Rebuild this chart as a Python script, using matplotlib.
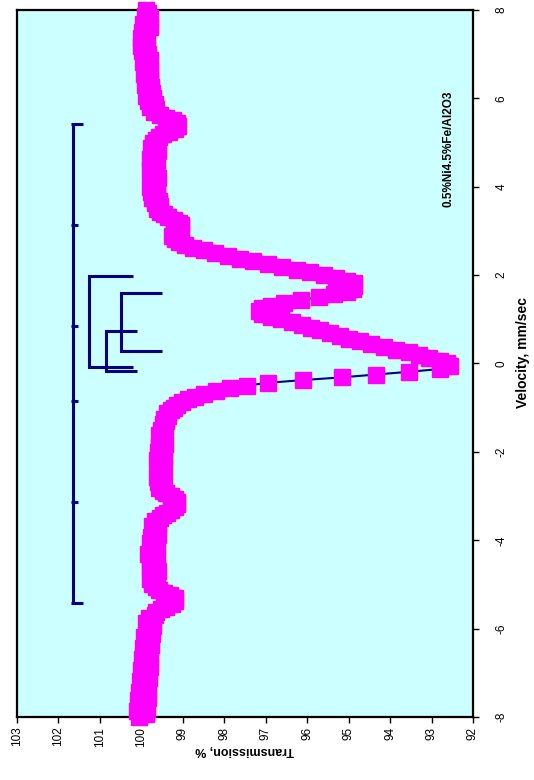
import numpy as np
import matplotlib
matplotlib.use("Agg")
import matplotlib.pyplot as plt

plt.rcParams['font.family'] = ['Liberation Sans', 'DejaVu Sans']
plt.rcParams['axes.unicode_minus'] = False

# Mossbauer spectrum, 0.5%Ni4.5%Fe/Al2O3 (channels evenly spaced from -8 to +8 mm/s)
transmission = [
    100.05, 99.90, 100.10, 99.86, 100.02, 99.92, 100.08, 99.85,
    99.96, 100.06, 99.84, 99.98, 99.88, 100.04, 99.82, 99.95,
    99.86, 100.00, 99.80, 99.93, 99.84, 99.98, 99.78, 99.92,
    99.82, 99.95, 99.76, 99.90, 99.80, 99.94, 99.74, 99.86,
    99.80, 99.72, 99.88, 99.74, 99.82, 99.68, 99.64, 99.52,
    99.40, 99.26, 99.18, 99.20, 99.32, 99.46, 99.58, 99.64,
    99.74, 99.62, 99.80, 99.66, 99.76, 99.60, 99.78, 99.66,
    99.80, 99.63, 99.74, 99.84, 99.65, 99.76, 99.62, 99.79,
    99.68, 99.76, 99.61, 99.72, 99.64, 99.74, 99.60, 99.66,
    99.56, 99.48, 99.38, 99.28, 99.20, 99.14, 99.13, 99.18,
    99.28, 99.40, 99.48, 99.58, 99.46, 99.60, 99.50, 99.62,
    99.48, 99.60, 99.46, 99.58, 99.50, 99.62, 99.45, 99.56,
    99.60, 99.46, 99.57, 99.44, 99.55, 99.48, 99.58, 99.45,
    99.52, 99.42, 99.49, 99.40, 99.45, 99.36, 99.38, 99.29,
    99.22, 99.13, 99.02, 98.88, 98.70, 98.48, 98.20, 97.85,
    97.45, 96.95, 96.10, 95.15, 94.35, 93.55, 92.80, 92.55,
    92.62, 92.80, 93.05, 93.30, 93.55, 93.85, 94.15, 94.45,
    94.72, 94.98, 95.22, 95.45, 95.68, 95.90, 96.12, 96.36,
    96.62, 96.88, 97.10, 97.16, 97.10, 96.88, 96.55, 96.15,
    95.72, 95.35, 95.05, 94.90, 94.86, 94.88, 95.05, 95.30,
    95.60, 95.92, 96.25, 96.60, 96.95, 97.30, 97.62, 97.92,
    98.22, 98.50, 98.75, 98.95, 99.10, 99.20, 99.26, 99.22,
    99.12, 99.05, 99.04, 99.10, 99.22, 99.36, 99.46, 99.54,
    99.62, 99.54, 99.68, 99.58, 99.74, 99.62, 99.76, 99.64,
    99.78, 99.63, 99.74, 99.60, 99.77, 99.66, 99.80, 99.64,
    99.75, 99.62, 99.79, 99.66, 99.74, 99.60, 99.77, 99.68,
    99.72, 99.64, 99.58, 99.48, 99.34, 99.20, 99.12, 99.13,
    99.24, 99.40, 99.55, 99.70, 99.64, 99.80, 99.68, 99.84,
    99.72, 99.88, 99.74, 99.86, 99.76, 99.92, 99.78, 99.88,
    99.80, 99.94, 99.78, 99.90, 99.82, 99.96, 99.80, 99.92,
    99.84, 99.98, 99.86, 100.00, 99.88, 99.96, 100.02, 99.86,
    99.98, 99.88, 99.80, 99.95, 99.86, 99.78, 99.92, 99.84,
    99.90,
]
velocity = np.linspace(-8.0, 8.0, len(transmission))

# Stick diagram of the fitted components
sextet_level = 101.65
sextet_lines = [-5.41, -3.13, -0.85, 0.85, 3.13, 5.41]
sextet_tick_len = [0.25, 0.12, 0.12, 0.12, 0.12, 0.25]

doublet_levels = [101.26, 100.49, 100.85]
doublet_arm_ends = [100.20, 99.50, 100.10]
doublet_lines = [(-0.08, 1.99), (0.28, 1.59), (-0.17, 0.74)]

sample_label = "0.5%Ni4.5%Fe/Al2O3"
x_ticks = list(range(92, 104))
y_ticks = [-8, -6, -4, -2, 0, 2, 4, 6, 8]

navy = '#000080'
magenta = '#FF00FF'

fig = plt.figure(figsize=(5.34, 7.8), dpi=100)
ax = fig.add_axes([17 / 534, 1 - 717 / 780, 456 / 534, 707 / 780])
ax.set_facecolor('#CCFFFF')

ax.plot(transmission, velocity, color=navy, lw=1.5, zorder=2)
ax.plot(transmission, velocity, ls='none', marker='s', ms=11,
        mfc=magenta, mec=magenta, zorder=3, clip_on=False)

# sextet bar with line positions
ax.plot([sextet_level, sextet_level], [min(sextet_lines), max(sextet_lines)],
        color=navy, lw=2.2, solid_capstyle='butt', zorder=4)
for v, tl in zip(sextet_lines, sextet_tick_len):
    ax.plot([sextet_level + 0.04, sextet_level - tl], [v, v], color=navy, lw=2.2,
            solid_capstyle='butt', zorder=4)

# doublet brackets
for lvl, end, (v1, v2) in zip(doublet_levels, doublet_arm_ends, doublet_lines):
    ax.plot([end, lvl, lvl, end], [v2, v2, v1, v1], color=navy, lw=2.2,
            solid_joinstyle='miter', solid_capstyle='butt', zorder=4)

ax.text(92.6, 4.85, sample_label, rotation=90, ha='center', va='center',
        fontsize=8.5, fontweight='bold')

ax.set_xlim(103, 92)
ax.set_ylim(-8, 8)
ax.set_xticks(x_ticks)
ax.set_yticks(y_ticks)
ax.yaxis.tick_right()
ax.tick_params(axis='both', direction='out', length=4, width=1, labelsize=8.5)
ax.tick_params(axis='x', pad=3)
ax.tick_params(axis='y', pad=12)
plt.setp(ax.get_xticklabels(), rotation=90, ha='center', va='top')
plt.setp(ax.get_yticklabels(), rotation=90, ha='left', va='center')

for s in ax.spines.values():
    s.set_linewidth(1.6)
    s.set_color('black')

ax.set_xlabel('Transmission, %', rotation=180, fontsize=9, fontweight='bold', labelpad=-2)
ax.yaxis.set_label_position('right')
ax.set_ylabel('Velocity, mm/sec', rotation=90, fontsize=10, fontweight='bold')
ax.yaxis.set_label_coords(1.094, 0.515)

fig.savefig('out.png', dpi=100, facecolor='white')
